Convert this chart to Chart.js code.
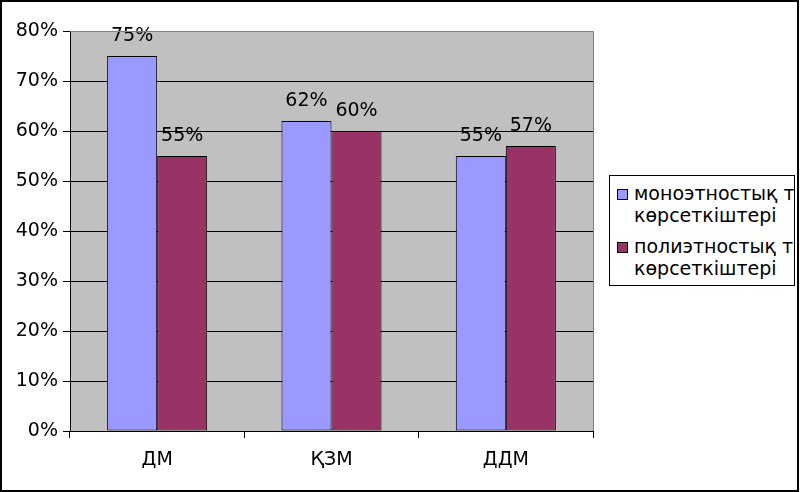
<!DOCTYPE html>
<html>
<head>
<meta charset="utf-8">
<script src="https://cdn.jsdelivr.net/npm/chart.js@4"></script>
<style>
  html, body { margin: 0; padding: 0; background: #fff; }
  #wrap { position: relative; width: 800px; height: 492px; }
  #legend {
    position: absolute; left: 609px; top: 175px; width: 184px; height: 109px;
    border: 1px solid #000; background: #fff; overflow: hidden;
    font-family: "DejaVu Sans", sans-serif; font-size: 19px; color: #000;
  }
  .item { position: absolute; left: 7px; white-space: nowrap; line-height: 22px; }
  .swatch {
    position: absolute; left: 0; top: 7px; width: 9px; height: 9px; border: 1px solid #000;
  }
  .txt { position: absolute; left: 17px; top: 0; }
</style>
</head>
<body>
<div id="wrap">
  <canvas id="chart" width="800" height="492"></canvas>
  <div id="legend"></div>
</div>
<script>
const categories = ['ДМ', 'ҚЗМ', 'ДДМ'];
const monoValues = [0.75, 0.62, 0.55];
const polyValues = [0.55, 0.60, 0.57];
const seriesNames = [['моноэтностық т', 'көрсеткіштері'], ['полиэтностық т', 'көрсеткіштері']];
const seriesColors = ['#9999FF', '#993366'];
const yTicks = [0, 0.1, 0.2, 0.3, 0.4, 0.5, 0.6, 0.7, 0.8];

const FONT = '"DejaVu Sans", sans-serif';

const plotBackground = {
    id: 'plotBackground',
    beforeDraw(chart) {
        const { ctx, chartArea } = chart;
        ctx.save();
        ctx.fillStyle = '#C0C0C0';
        ctx.fillRect(chartArea.left, chartArea.top, chartArea.right - chartArea.left, chartArea.bottom - chartArea.top);
        ctx.restore();
    },
    afterDraw(chart) {
        const { ctx, chartArea } = chart;
        ctx.save();
        ctx.strokeStyle = '#808080';
        ctx.lineWidth = 1;
        ctx.beginPath();
        ctx.moveTo(chartArea.left, chartArea.top + 0.5);
        ctx.lineTo(chartArea.right + 0.5, chartArea.top + 0.5);
        ctx.lineTo(chartArea.right + 0.5, chartArea.bottom);
        ctx.stroke();
        ctx.strokeStyle = '#000';
        ctx.lineWidth = 2;
        ctx.strokeRect(1, 1, 797, 490);
        ctx.restore();
    }
};

const valueLabels = {
    id: 'valueLabels',
    afterDatasetsDraw(chart) {
        const { ctx } = chart;
        ctx.save();
        ctx.font = '19px ' + FONT;
        ctx.fillStyle = '#000';
        ctx.textAlign = 'center';
        ctx.textBaseline = 'bottom';
        chart.data.datasets.forEach((dataset, di) => {
            chart.getDatasetMeta(di).data.forEach((bar, i) => {
                const text = Math.round(dataset.data[i] * 100) + '%';
                ctx.fillText(text, bar.x, bar.y - 10);
            });
        });
        ctx.restore();
    }
};

new Chart(document.getElementById('chart'), {
    type: 'bar',
    data: {
        labels: categories,
        datasets: [
            {
                label: seriesNames[0].join(' '),
                data: monoValues,
                backgroundColor: seriesColors[0],
                borderColor: '#000',
                borderWidth: 1,
                borderSkipped: false
            },
            {
                label: seriesNames[1].join(' '),
                data: polyValues,
                backgroundColor: seriesColors[1],
                borderColor: '#000',
                borderWidth: 1,
                borderSkipped: false
            }
        ]
    },
    options: {
        responsive: false,
        animation: false,
        layout: {
            padding: { left: 0, right: 207, top: 31, bottom: 0 }
        },
        datasets: {
            bar: {
                categoryPercentage: 0.574,
                barPercentage: 1
            }
        },
        plugins: {
            legend: { display: false },
            tooltip: { enabled: false }
        },
        scales: {
            x: {
                offset: true,
                grid: {
                    offset: true,
                    drawOnChartArea: false,
                    color: '#000',
                    tickLength: 7
                },
                border: { color: '#000', width: 1 },
                ticks: {
                    color: '#000',
                    font: { family: FONT, size: 19 },
                    padding: 11
                },
                afterFit(scale) {
                    scale.height = 61;
                }
            },
            y: {
                min: 0,
                max: 0.8,
                afterBuildTicks(scale) {
                    scale.ticks = yTicks.map((value) => ({ value }));
                },
                grid: {
                    color: (context) => (context.tick && context.tick.value >= 0.8 ? 'rgba(0,0,0,0)' : '#000'),
                    tickColor: '#000',
                    tickLength: 7
                },
                border: { color: '#000', width: 1 },
                ticks: {
                    color: '#000',
                    font: { family: FONT, size: 19 },
                    padding: 5,
                    callback: (value) => Math.round(value * 100) + '%'
                },
                afterFit(scale) {
                    scale.width = 70;
                }
            }
        }
    },
    plugins: [plotBackground, valueLabels]
});

const legendBox = document.getElementById('legend');
const itemTops = [6, 59];
seriesNames.forEach((lines, i) => {
    const item = document.createElement('div');
    item.className = 'item';
    item.style.top = itemTops[i] + 'px';
    const swatch = document.createElement('div');
    swatch.className = 'swatch';
    swatch.style.background = seriesColors[i];
    const txt = document.createElement('div');
    txt.className = 'txt';
    txt.innerHTML = lines.join('<br>');
    item.appendChild(swatch);
    item.appendChild(txt);
    legendBox.appendChild(item);
});
</script>
</body>
</html>
